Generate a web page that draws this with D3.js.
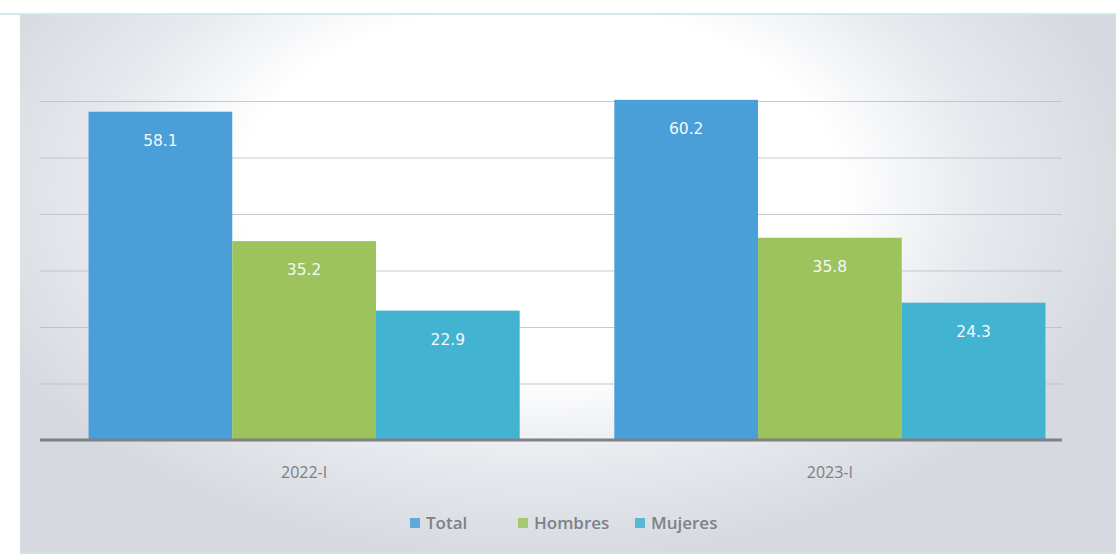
<!DOCTYPE html>
<html>
<head>
<meta charset="utf-8">
<script src="https://cdn.jsdelivr.net/npm/d3@7"></script>
<style>
  html, body { margin: 0; padding: 0; background: #ffffff; }
  svg { display: block; }
</style>
</head>
<body>
<svg id="chart" width="1116" height="560"></svg>
<script>
// Periods, series and values
const periods = ["2022-I", "2023-I"];
const seriesNames = ["Total", "Hombres", "Mujeres"];
const total = [58.1, 60.2];
const hombres = [35.2, 35.8];
const mujeres = [22.9, 24.3];
const gridTicks = [0, 10, 20, 30, 40, 50, 60];

const colors = { Total: "#4a9fd8", Hombres: "#9cc35c", Mujeres: "#42b3d0" };

const rows = periods.map((p, i) => ({
  period: p,
  values: [
    { key: "Total", value: total[i] },
    { key: "Hombres", value: hombres[i] },
    { key: "Mujeres", value: mujeres[i] }
  ]
}));

const W = 1116, H = 560;
const svg = d3.select("#chart");
const defs = svg.append("defs");

// Soft grey frame, white in the upper middle of the plot
const rg = defs.append("radialGradient")
  .attr("id", "bg").attr("gradientUnits", "userSpaceOnUse")
  .attr("cx", 540).attr("cy", 190).attr("r", 600)
  .attr("gradientTransform", "translate(540,190) scale(1,0.62) translate(-540,-190)");
rg.append("stop").attr("offset", "0").attr("stop-color", "#ffffff");
rg.append("stop").attr("offset", "0.5").attr("stop-color", "#ffffff");
rg.append("stop").attr("offset", "0.74").attr("stop-color", "#e6e9ed");
rg.append("stop").attr("offset", "1").attr("stop-color", "#d6dae0");

svg.append("rect").attr("x", 20).attr("y", 14).attr("width", W - 20).attr("height", 539)
  .attr("fill", "url(#bg)");
svg.append("line").attr("x1", 0).attr("x2", W).attr("y1", 14).attr("y2", 14)
  .attr("stroke", "#cfe9ee").attr("stroke-width", 2);
svg.append("line").attr("x1", 20).attr("x2", W).attr("y1", 553).attr("y2", 553)
  .attr("stroke", "#cde3e6").attr("stroke-width", 2);

// Scales
const y = d3.scaleLinear().domain([0, 60]).range([440, 101]);
const x0 = d3.scaleBand().domain(periods).range([57, 1077])
  .paddingInner(0.18).paddingOuter(0.06);
const x1 = d3.scaleBand().domain(seriesNames).range([0, x0.bandwidth()]).padding(0);

// Horizontal gridlines across the plot (axisRight draws its ticks to the right)
const grid = svg.append("g").attr("transform", "translate(40,0)")
  .call(d3.axisRight(y).tickValues(gridTicks).tickSize(1022).tickFormat(""));
grid.select(".domain").remove();
grid.selectAll(".tick line")
  .attr("stroke", "#b9bcc2")
  .attr("stroke-width", 1.2)
  .attr("opacity", 0.8);

// Bars
const groups = svg.append("g").selectAll("g").data(rows).join("g")
  .attr("transform", d => `translate(${x0(d.period)},0)`);

groups.selectAll("rect").data(d => d.values).join("rect")
  .attr("x", d => x1(d.key))
  .attr("y", d => y(d.value))
  .attr("width", x1.bandwidth())
  .attr("height", d => y(0) - y(d.value))
  .attr("fill", d => colors[d.key]);

groups.selectAll("text.val").data(d => d.values).join("text")
  .attr("class", "val")
  .attr("x", d => x1(d.key) + x1.bandwidth() / 2)
  .attr("y", d => y(d.value) + 34)
  .attr("text-anchor", "middle")
  .attr("font-family", "DejaVu Sans, Verdana, sans-serif")
  .attr("font-size", 15.5)
  .attr("fill", "#f4f8fb")
  .text(d => d.value.toFixed(1));

// Baseline axis
svg.append("line")
  .attr("x1", 40).attr("x2", 1062)
  .attr("y1", y(0)).attr("y2", y(0))
  .attr("stroke", "#7d8084").attr("stroke-width", 3);

// Category axis labels
const xAxis = svg.append("g").attr("transform", `translate(0,${y(0)})`)
  .call(d3.axisBottom(x0).tickSize(0).tickPadding(27));
xAxis.select(".domain").remove();
xAxis.selectAll("text")
  .attr("font-family", "Open Sans, sans-serif")
  .attr("font-size", 16)
  .attr("fill", "#7b7e84");

// Legend
const legendX = [410, 518, 635];
const legend = svg.append("g").selectAll("g").data(seriesNames).join("g")
  .attr("transform", (d, i) => `translate(${legendX[i]},523)`);
legend.append("rect").attr("x", 0).attr("y", -5).attr("width", 10).attr("height", 10)
  .attr("fill", d => colors[d]).attr("opacity", 0.85);
legend.append("text").attr("x", 16).attr("y", 6)
  .attr("font-family", "Open Sans, sans-serif")
  .attr("font-size", 17).attr("font-weight", 600)
  .attr("fill", "#7e8188")
  .text(d => d);
</script>
</body>
</html>
